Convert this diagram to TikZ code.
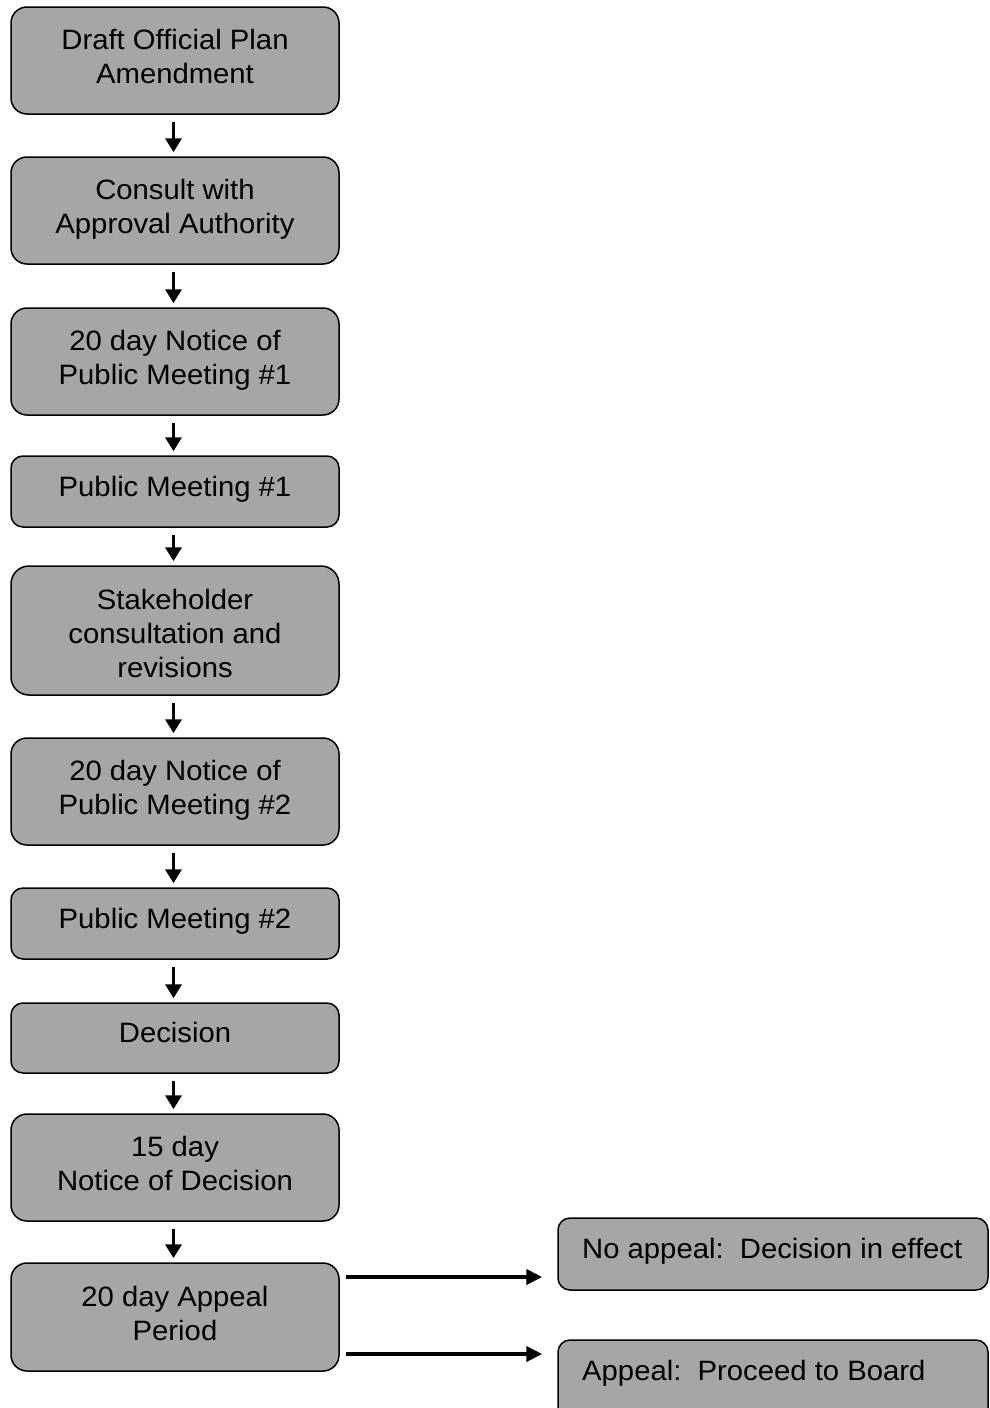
\documentclass[tikz,border=0pt]{standalone}
\usepackage{fontspec}
\setmainfont[FakeStretch=1.045]{Liberation Sans}
\usetikzlibrary{arrows.meta}
\definecolor{boxgray}{HTML}{A6A6A6}
\begin{document}
\begin{tikzpicture}[x=1pt,y=-1pt,
  box/.style={draw=black, line width=1.5pt, fill=boxgray, rounded corners=#1, minimum width=328pt, inner sep=0pt},
  box/.default=16pt,
  lbl/.style={anchor=north, align=center, inner sep=0pt, font=\fontsize{28}{34}\selectfont},
  lbll/.style={anchor=north west, align=left, inner sep=0pt, font=\fontsize{28}{34}\selectfont},
  varrow/.style={line width=3.6pt, -{Triangle[width=16pt,length=14pt]}, shorten <=7pt, shorten >=4pt},
  harrow/.style={line width=4.3pt, -{Triangle[width=15pt,length=16pt]}, shorten <=6pt, shorten >=15pt}]
\useasboundingbox (0,0) rectangle (990,1408);
\node[box, minimum height=107pt] (b1) at (175,60.5) {};
\node[lbl] (t1) at (175,28.7) {Draft Official Plan\\Amendment};
\node[box, minimum height=107pt] (b2) at (175,210.5) {};
\node[lbl] (t2) at (175,178.7) {Consult with\\Approval Authority};
\node[box, minimum height=107pt] (b3) at (175,361.5) {};
\node[lbl] (t3) at (175,329.7) {20 day Notice of\\Public Meeting \#1};
\node[box=12pt, minimum height=71pt] (b4) at (175,491.5) {};
\node[lbl] (t4) at (175,475.7) {Public Meeting \#1};
\node[box=18pt, minimum height=129pt] (b5) at (175,630.5) {};
\node[lbl] (t5) at (175,588.7) {Stakeholder\\consultation and\\revisions};
\node[box, minimum height=107pt] (b6) at (175,791.5) {};
\node[lbl] (t6) at (175,759.7) {20 day Notice of\\Public Meeting \#2};
\node[box=12pt, minimum height=71pt] (b7) at (175,923.5) {};
\node[lbl] (t7) at (175,907.7) {Public Meeting \#2};
\node[box=12pt, minimum height=70pt] (b8) at (175,1038) {};
\node[lbl] (t8) at (175,1021.7) {Decision};
\node[box, minimum height=107pt] (b9) at (175,1167.5) {};
\node[lbl] (t9) at (175,1135.7) {15 day\\Notice of Decision};
\node[box, minimum height=108pt] (b10) at (175,1317) {};
\node[lbl] (t10) at (175,1285.7) {20 day Appeal\\Period};
\node[box=12pt, minimum width=430pt, minimum height=72pt] (b11) at (773,1254) {};
\node[lbll] (t11) at (582,1237.7) {No appeal:\ \ Decision in effect};
\node[box=12pt, minimum width=430pt, minimum height=80pt] (b12) at (773,1380) {};
\node[lbll] (t12) at (582,1359.7) {Appeal:\ \ Proceed to Board};
\foreach \a/\b in {b1/b2,b2/b3,b3/b4,b4/b5,b5/b6,b6/b7,b7/b8,b8/b9,b9/b10}
  \draw[varrow] ([xshift=-1.5pt]\a.south) -- ([xshift=-1.5pt]\b.north);
\draw[harrow] (b10.east |- 0,1277) -- (b11.west |- 0,1277);
\draw[harrow] (b10.east |- 0,1354) -- (b12.west |- 0,1354);
\end{tikzpicture}
\end{document}
